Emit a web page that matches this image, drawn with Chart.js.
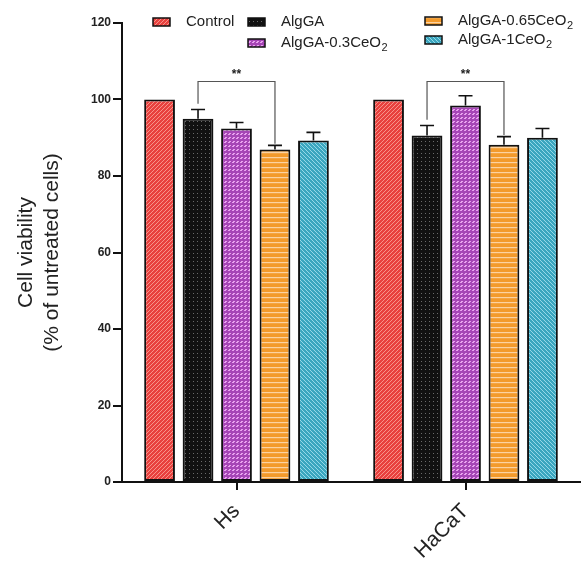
<!DOCTYPE html>
<html lang="en">
<head>
<meta charset="UTF-8">
<title>Cell viability</title>
<script src="https://cdn.jsdelivr.net/npm/chart.js@4.4.1/dist/chart.umd.min.js"></script>
<style>
  html, body { margin: 0; padding: 0; background: #fff; }
  #wrap { width: 582px; height: 563px; }
</style>
</head>
<body>
<div id="wrap"><canvas id="myChart" width="582" height="563"></canvas></div>
<script>
// data
const groups = ['Hs', 'HaCaT'];
const seriesNames = ['Control', 'AlgGA', 'AlgGA-0.3CeO2', 'AlgGA-0.65CeO2', 'AlgGA-1CeO2'];
const controlVals = [100, 100];
const alggaVals = [95.0, 90.6];
const ceo03Vals = [92.4, 98.4];
const ceo065Vals = [86.9, 88.2];
const ceo1Vals = [89.3, 90.0];
const controlErr = [0, 0];
const alggaErr = [2.4, 2.6];
const ceo03Err = [1.6, 2.6];
const ceo065Err = [1.1, 2.1];
const ceo1Err = [2.1, 2.4];
const yTicks = [0, 20, 40, 60, 80, 100, 120];
// significance: [group index, series a, series b, bracket height, label]
const signif = [[0, 1, 3, 104.7, '**'], [1, 1, 3, 104.7, '**']];

Chart.defaults.font.family = '"Liberation Sans", Arial, sans-serif';
Chart.defaults.color = '#222';

function makePattern(kind) {
  const c = document.createElement('canvas');
  const g = c.getContext('2d');
  const s = kind === 'orange' ? 5 : 4;
  c.width = s; c.height = s;
  if (kind === 'red') {
    g.fillStyle = '#e8413e'; g.fillRect(0, 0, s, s);
    g.strokeStyle = '#f7938a'; g.lineWidth = 1;
    g.beginPath(); g.moveTo(0, s); g.lineTo(s, 0);
    g.moveTo(-1, 1); g.lineTo(1, -1); g.moveTo(s - 1, s + 1); g.lineTo(s + 1, s - 1); g.stroke();
  } else if (kind === 'black') {
    g.fillStyle = '#111'; g.fillRect(0, 0, s, s);
    g.fillStyle = '#6a6a6a'; g.fillRect(1, 1, 1, 1);
  } else if (kind === 'purple') {
    g.fillStyle = '#a646b6'; g.fillRect(0, 0, s, s);
    g.fillStyle = '#e9a3ef'; g.fillRect(0, 2, 2, 1); g.fillRect(1, 1, 2, 1);
  } else if (kind === 'orange') {
    g.fillStyle = '#f39a2b'; g.fillRect(0, 0, s, s);
    g.fillStyle = '#fcd2a0'; g.fillRect(0, 2, s, 1.2);
  } else {
    g.fillStyle = '#3aa6bf'; g.fillRect(0, 0, s, s);
    g.strokeStyle = '#95d8e8'; g.lineWidth = 1;
    g.beginPath(); g.moveTo(0, 0); g.lineTo(s, s);
    g.moveTo(-1, s - 1); g.lineTo(1, s + 1); g.moveTo(s - 1, -1); g.lineTo(s + 1, 1); g.stroke();
  }
  return document.getElementById('myChart').getContext('2d').createPattern(c, 'repeat');
}

const patterns = ['red', 'black', 'purple', 'orange', 'teal'].map(makePattern);
const allVals = [controlVals, alggaVals, ceo03Vals, ceo065Vals, ceo1Vals];
const allErr = [controlErr, alggaErr, ceo03Err, ceo065Err, ceo1Err];

const datasets = seriesNames.map((name, i) => ({
  label: name,
  data: allVals[i],
  errors: allErr[i],
  backgroundColor: patterns[i],
  borderColor: '#111',
  borderWidth: 2,
  borderSkipped: false,
  categoryPercentage: 0.84,
  barPercentage: 0.8
}));

const errorBars = {
  id: 'errorBars',
  afterDatasetsDraw(chart) {
    const {ctx, scales: {y}} = chart;
    ctx.save();
    ctx.strokeStyle = '#111';
    ctx.lineWidth = 1.6;
    chart.data.datasets.forEach((ds, di) => {
      const meta = chart.getDatasetMeta(di);
      meta.data.forEach((bar, i) => {
        const e = ds.errors[i];
        if (!e) return;
        const yTop = y.getPixelForValue(ds.data[i] + e);
        ctx.beginPath();
        ctx.moveTo(bar.x, bar.y);
        ctx.lineTo(bar.x, yTop);
        ctx.moveTo(bar.x - 7, yTop);
        ctx.lineTo(bar.x + 7, yTop);
        ctx.stroke();
      });
    });
    // significance brackets
    ctx.strokeStyle = '#555';
    ctx.lineWidth = 1.2;
    signif.forEach(([gi, a, b, h, txt]) => {
      const ds = chart.data.datasets;
      const xa = chart.getDatasetMeta(a).data[gi].x;
      const xb = chart.getDatasetMeta(b).data[gi].x;
      const yh = y.getPixelForValue(h);
      const ya = y.getPixelForValue(ds[a].data[gi] + ds[a].errors[gi] + 1.5);
      const yb = y.getPixelForValue(ds[b].data[gi] + ds[b].errors[gi] + 0.4);
      ctx.beginPath();
      ctx.moveTo(xa, ya); ctx.lineTo(xa, yh); ctx.lineTo(xb, yh); ctx.lineTo(xb, yb);
      ctx.stroke();
      ctx.fillStyle = '#222';
      ctx.font = 'bold 12px "Liberation Sans", Arial, sans-serif';
      ctx.textAlign = 'center';
      ctx.textBaseline = 'middle';
      ctx.fillText(txt, (xa + xb) / 2, yh - 7);
    });
    ctx.restore();
  }
};

// legend drawn by hand so the subscript 2 can be set lower and smaller
const legendPos = [[153, 22], [248, 22], [248, 43], [425, 21], [425, 40]];
const legendDraw = {
  id: 'legendDraw',
  afterDraw(chart) {
    const {ctx} = chart;
    ctx.save();
    seriesNames.forEach((name, i) => {
      const [lx, ly] = legendPos[i];
      ctx.fillStyle = patterns[i];
      ctx.fillRect(lx, ly - 4, 17, 8);
      ctx.strokeStyle = '#111';
      ctx.lineWidth = 1.5;
      ctx.strokeRect(lx, ly - 4, 17, 8);
      ctx.fillStyle = '#222';
      ctx.textAlign = 'left';
      ctx.textBaseline = 'middle';
      ctx.font = '15px "Liberation Sans", Arial, sans-serif';
      let tx = lx + 33;
      if (name.endsWith('2')) {
        const main = name.slice(0, -1);
        ctx.fillText(main, tx, ly);
        tx += ctx.measureText(main).width;
        ctx.font = '11px "Liberation Sans", Arial, sans-serif';
        ctx.fillText('2', tx + 0.5, ly + 5);
      } else {
        ctx.fillText(name, tx, ly);
      }
    });
    ctx.restore();
  }
};

new Chart(document.getElementById('myChart'), {
  type: 'bar',
  data: {labels: groups, datasets: datasets},
  plugins: [errorBars, legendDraw],
  options: {
    responsive: false,
    animation: false,
    layout: {padding: {top: 23, right: 2, left: 0, bottom: 0}},
    plugins: {legend: {display: false}, tooltip: {enabled: false}},
    scales: {
      x: {
        afterFit(scale) { scale.height = 81; },
        border: {color: '#111', width: 2},
        grid: {display: true, drawOnChartArea: false, drawTicks: true, tickLength: 8, color: '#111', lineWidth: 2, offset: false},
        ticks: {color: '#222', font: {size: 21}, minRotation: 45, maxRotation: 45, padding: 9}
      },
      y: {
        min: 0,
        max: 120,
        afterFit(scale) { scale.width = 122; },
        afterBuildTicks(scale) { scale.ticks = yTicks.map(v => ({value: v})); },
        border: {color: '#111', width: 2},
        grid: {display: true, drawOnChartArea: false, drawTicks: true, tickLength: 9, color: '#111', lineWidth: 2},
        ticks: {color: '#222', font: {size: 12, weight: 'bold'}, padding: 2},
        title: {display: true, text: ['Cell viability', '(% of untreated cells)'], color: '#222', font: {size: 21}, padding: {top: 14, bottom: 0}}
      }
    }
  }
});
</script>
</body>
</html>
